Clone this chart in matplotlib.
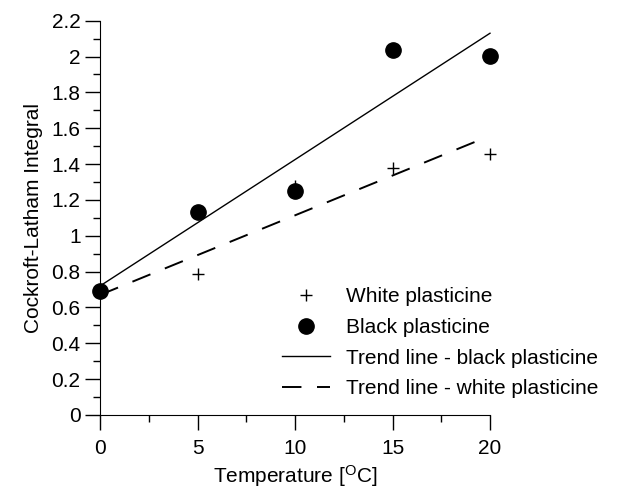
import matplotlib

matplotlib.use("Agg")
import matplotlib.pyplot as plt
import numpy as np
from matplotlib.ticker import MultipleLocator, FuncFormatter

temperature = [0, 5, 10, 15, 20]
white_plasticine = [0.68, 0.787, 1.275, 1.376, 1.456]
black_plasticine = [0.692, 1.134, 1.252, 2.036, 2.003]

# trend lines (intercept, slope)
black_trend = (0.72, 0.0705)
white_trend = (0.67, 0.0444)
trend_x = [0, 20]
white_trend_x = [0, 19.3]

plt.rcParams["font.family"] = ["Liberation Sans", "DejaVu Sans"]

fig = plt.figure(figsize=(6.19, 4.88), dpi=100)
ax = fig.add_axes([0.1616, 0.1496, 0.630, 0.808])

bx = np.array(trend_x, dtype=float)
wx = np.array(white_trend_x, dtype=float)
ax.plot(temperature, white_plasticine, linestyle="none", marker="+", markersize=9,
        markeredgewidth=1.0, color="black", label="White plasticine")
ax.plot(temperature, black_plasticine, linestyle="none", marker="o", markersize=11,
        color="black", label="Black plasticine")
ax.plot(bx, black_trend[0] + black_trend[1] * bx, color="black", linewidth=1.0,
        label="Trend line - black plasticine")
ax.plot(wx, white_trend[0] + white_trend[1] * wx, color="black", linewidth=1.4,
        dashes=(10, 8), label="Trend line - white plasticine")

ax.set_xlim(0, 20)
ax.set_ylim(0, 2.2)
ax.xaxis.set_major_locator(MultipleLocator(5))
ax.xaxis.set_minor_locator(MultipleLocator(2.5))
ax.yaxis.set_major_locator(MultipleLocator(0.2))
ax.yaxis.set_minor_locator(MultipleLocator(0.1))
ax.yaxis.set_major_formatter(FuncFormatter(lambda v, p: f"{v:.1f}".rstrip("0").rstrip(".")))

ax.spines["top"].set_visible(False)
ax.spines["right"].set_visible(False)
ax.tick_params(which="major", direction="out", length=11, width=1.0, labelsize=15, pad=3)
ax.tick_params(axis="x", which="major", pad=6)
ax.tick_params(which="minor", direction="out", length=5, width=1.0)
for line in ax.lines:
    line.set_clip_on(False)

ax.set_xlabel("Temperature [$\\mathregular{^{O}}$C]", fontsize=15, labelpad=4)
ax.set_ylabel("Cockroft-Latham Integral", fontsize=15, labelpad=6)

ax.legend(loc="upper left", bbox_to_anchor=(0.4394, 0.4324), bbox_transform=fig.transFigure,
          frameon=False, fontsize=15, handlelength=2.3, handletextpad=0.77,
          labelspacing=0.56, borderpad=0)

fig.savefig("out.png", dpi=100)
